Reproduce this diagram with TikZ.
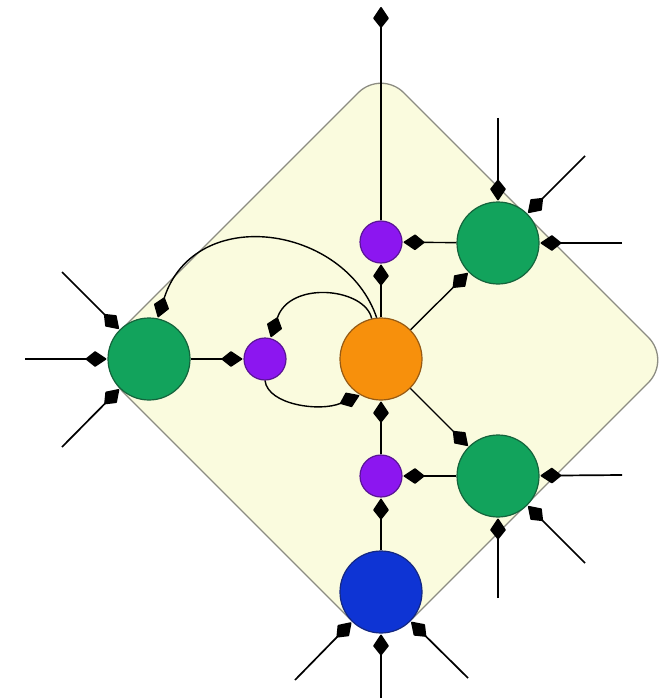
\documentclass[tikz,border=0pt]{standalone}
\usetikzlibrary{arrows.meta}
\definecolor{gfill}{RGB}{18,163,92}
\definecolor{gdraw}{RGB}{20,100,60}
\definecolor{ofill}{RGB}{247,144,12}
\definecolor{odraw}{RGB}{150,90,20}
\definecolor{bfill}{RGB}{14,52,212}
\definecolor{bdraw}{RGB}{20,40,130}
\definecolor{pfill}{RGB}{140,22,240}
\definecolor{pdraw}{RGB}{90,20,150}
\definecolor{bgy}{RGB}{250,251,222}
\definecolor{dgray}{RGB}{140,140,130}
\tikzset{
  bignode/.style={circle, minimum size=82pt, inner sep=0pt, line width=1.2pt},
  gnode/.style={bignode, fill=gfill, draw=gdraw},
  pnode/.style={circle, minimum size=42pt, inner sep=0pt, line width=1.2pt, fill=pfill, draw=pdraw},
  karrow/.style={line width=1.4pt, -{Kite[length=22pt,width=16pt,inset=10pt,round]}, shorten >=1pt},
  xarrow/.style={karrow, line width=1.7pt}
}
\begin{document}
\begin{tikzpicture}[x=1pt,y=-1pt]
\useasboundingbox (0,0) rectangle (663,698);
\filldraw[fill=bgy, draw=dgray, line width=1.3pt, rounded corners=32pt]
  (381,70) -- (671,360) [rounded corners=46pt] -- (381,650) -- (91,360) [rounded corners=32pt] -- cycle;

% nodes
\node[bignode, fill=ofill, draw=odraw] (o) at (381,359) {};
\node[bignode, fill=bfill, draw=bdraw] (b) at (381,592) {};
\node[gnode] (gl) at (149,359) {};
\node[gnode] (gtr) at (498,243) {};
\node[gnode] (gbr) at (498,476) {};
\node[pnode] (pt) at (381,242) {};
\node[pnode] (pl) at (265,359) {};
\node[pnode] (pb) at (381,476) {};

% free ends
\coordinate (top) at (381,6);
\coordinate (l1) at (25,359);
\coordinate (l2) at (62,272);
\coordinate (l3) at (62,447);
\coordinate (tr1) at (498,118);
\coordinate (tr2) at (585,156);
\coordinate (tr3) at (622,243);
\coordinate (br1) at (622,475);
\coordinate (br2) at (585,563);
\coordinate (br3) at (498,598);
\coordinate (b1) at (381,698);
\coordinate (b2) at (295,680);
\coordinate (b3) at (468,678);

% internal connectors
\draw[karrow] (o) -- (pt);
\draw[xarrow] (pt) -- (top);
\draw[karrow] (gtr) -- (pt);
\draw[karrow] (o) -- (gtr);
\draw[karrow] (o) -- (gbr);
\draw[karrow] (gbr) -- (pb);
\draw[karrow] (pb) -- (o);
\draw[karrow] (b) -- (pb);
\draw[karrow] (gl) -- (pl);
\draw[karrow] (o.96) .. controls (345,225) and (195,203) .. (gl.78);
\draw[karrow] (o.103) .. controls (365,288) and (290,280) .. (pl.75);
\draw[karrow] (pl.south) .. controls (268,405) and (320,412) .. (o.240);

% external inputs
\draw[xarrow] (l1) -- (gl);
\draw[xarrow] (l2) -- (gl);
\draw[xarrow] (l3) -- (gl);
\draw[xarrow] (tr1) -- (gtr);
\draw[xarrow] (tr2) -- (gtr);
\draw[xarrow] (tr3) -- (gtr);
\draw[xarrow] (br1) -- (gbr);
\draw[xarrow] (br2) -- (gbr);
\draw[xarrow] (br3) -- (gbr);
\draw[xarrow] (b1) -- (b);
\draw[xarrow] (b2) -- (b);
\draw[xarrow] (b3) -- (b);
\end{tikzpicture}
\end{document}
